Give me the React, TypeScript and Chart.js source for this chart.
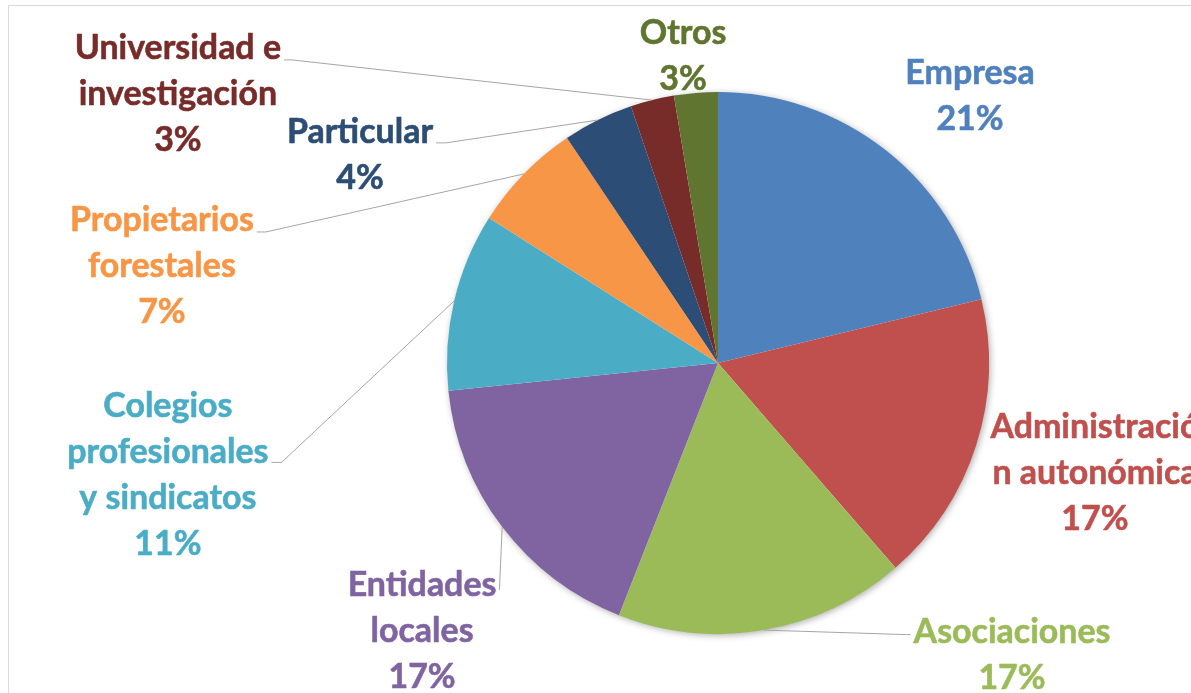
import React, { useEffect, useRef } from "react";
import { Chart, registerables } from "chart.js";

Chart.register(...registerables);

// ---- data ----
const categories = [
  "Empresa",
  "Administración autonómica",
  "Asociaciones",
  "Entidades locales",
  "Colegios profesionales y sindicatos",
  "Propietarios forestales",
  "Particular",
  "Universidad e investigación",
  "Otros",
];
const values = [21.2, 17.4, 17.3, 17.4, 10.6, 6.6, 4.2, 2.6, 2.6];
const labelLines = [
  ["Empresa"],
  ["Administració", "n autonómica"],
  ["Asociaciones"],
  ["Entidades", "locales"],
  ["Colegios", "profesionales", "y sindicatos"],
  ["Propietarios", "forestales"],
  ["Particular"],
  ["Universidad e", "investigación"],
  ["Otros"],
];

// ---- style ----
const colors = [
  "#4F81BD",
  "#C0504D",
  "#9BBB59",
  "#8064A2",
  "#4BACC6",
  "#F79646",
  "#2C4D75",
  "#772C2A",
  "#5F7530",
];
// label block centre relative to pie centre, in units of pie radius;
// attachDy: leader attach point relative to block centre (px)
const labelPlacement = [
  { dx: 0.93, dy: -0.985, leader: false, elbow: 0, attachDy: 0 },
  { dx: 1.391, dy: 0.406, leader: false, elbow: 0, attachDy: 0 },
  { dx: 1.085, dy: 1.076, leader: true, elbow: 4, attachDy: -20 },
  { dx: -1.092, dy: 0.989, leader: true, elbow: 0, attachDy: -41 },
  { dx: -2.03, dy: 0.411, leader: true, elbow: 10, attachDy: -12 },
  { dx: -2.052, dy: -0.358, leader: true, elbow: 9, attachDy: -34 },
  { dx: -1.321, dy: -0.768, leader: true, elbow: 10, attachDy: -12 },
  { dx: -1.993, dy: -0.993, leader: true, elbow: 8, attachDy: -34 },
  { dx: -0.129, dy: -1.135, leader: false, elbow: 0, attachDy: 0 },
];
const FONT_SIZE = 35;
const FONT_FAMILY = "Lato";
const SCALE_X = 0.97;
const LINE_H = 46;

const framePlugin = {
  id: "frame",
  beforeDraw(chart: any) {
    const ctx = chart.ctx;
    ctx.save();
    ctx.fillStyle = "#ffffff";
    ctx.fillRect(0, 0, chart.width, chart.height);
    ctx.strokeStyle = "#d9d9d9";
    ctx.lineWidth = 1;
    ctx.strokeRect(8.5, 5.5, chart.width + 50, chart.height + 50);
    ctx.restore();
  },
};

const shadowPlugin = {
  id: "pieShadow",
  beforeDatasetsDraw(chart: any) {
    const meta = chart.getDatasetMeta(0);
    const a = meta.data[0];
    if (!a) return;
    const { x, y, outerRadius } = a.getProps(["x", "y", "outerRadius"], true);
    const ctx = chart.ctx;
    ctx.save();
    ctx.shadowColor = "rgba(0,0,0,0.35)";
    ctx.shadowBlur = 7;
    ctx.shadowOffsetX = 1.5;
    ctx.shadowOffsetY = 1.5;
    ctx.fillStyle = "#ffffff";
    ctx.beginPath();
    ctx.arc(x, y, outerRadius - 0.5, 0, Math.PI * 2);
    ctx.fill();
    ctx.restore();
  },
};

const labelPlugin = {
  id: "outerLabels",
  afterDatasetsDraw(chart: any) {
    const ctx = chart.ctx;
    const meta = chart.getDatasetMeta(0);
    const data = chart.data.datasets[0].data as number[];
    const total = data.reduce((s, v) => s + v, 0);
    ctx.save();
    ctx.font = `bold ${FONT_SIZE}px ${FONT_FAMILY}`;
    meta.data.forEach((arc: any, i: number) => {
      const { x, y, startAngle, endAngle, outerRadius } = arc.getProps(
        ["x", "y", "startAngle", "endAngle", "outerRadius"],
        true
      );
      const p = labelPlacement[i];
      const cx = x + p.dx * outerRadius;
      const cy = y + p.dy * outerRadius;
      const pct = Math.round((data[i] / total) * 100) + "%";
      const lines = [...labelLines[i], pct];
      const firstY = cy - ((lines.length - 1) / 2) * LINE_H;
      let maxW = 0;
      lines.forEach((l) => {
        maxW = Math.max(maxW, ctx.measureText(l).width * SCALE_X);
      });
      if (p.leader) {
        const mid = (startAngle + endAngle) / 2;
        const ax = x + Math.cos(mid) * outerRadius;
        const ay = y + Math.sin(mid) * outerRadius;
        const rightSide = cx < x;
        const edgeX = rightSide ? cx + maxW / 2 + 3 : cx - maxW / 2 - 3;
        const attY = cy + p.attachDy;
        const elbowX = rightSide ? edgeX + p.elbow : edgeX - p.elbow;
        ctx.strokeStyle = "#a6a6a6";
        ctx.lineWidth = 1;
        ctx.beginPath();
        ctx.moveTo(ax, ay);
        ctx.lineTo(elbowX, attY);
        ctx.lineTo(edgeX, attY);
        ctx.stroke();
      }
      ctx.fillStyle = colors[i];
      ctx.strokeStyle = colors[i];
      ctx.lineWidth = 0.6;
      ctx.lineJoin = "round";
      ctx.textAlign = "center";
      ctx.textBaseline = "middle";
      lines.forEach((l, k) => {
        ctx.save();
        ctx.translate(cx, firstY + k * LINE_H);
        ctx.scale(SCALE_X, 1);
        ctx.fillText(l, 0, 0);
        ctx.strokeText(l, 0, 0);
        ctx.restore();
      });
    });
    ctx.restore();
  },
};

export default function App() {
  const ref = useRef<HTMLCanvasElement | null>(null);
  useEffect(() => {
    if (!ref.current) return;
    const chart = new Chart(ref.current, {
      type: "pie",
      data: {
        labels: categories,
        datasets: [
          {
            data: values,
            backgroundColor: colors,
            borderWidth: 0,
            hoverOffset: 0,
            offset: 0,
          },
        ],
      },
      options: {
        responsive: false,
        animation: false,
        events: [],
        layout: { padding: { left: 447, right: 202, top: 92, bottom: 59 } },
        plugins: {
          legend: { display: false },
          tooltip: { enabled: false },
        },
      },
      plugins: [framePlugin, shadowPlugin, labelPlugin],
    });
    return () => chart.destroy();
  }, []);
  return (
    <div style={{ position: "fixed", left: 0, top: 0, width: 1191, height: 693 }}>
      <canvas ref={ref} width={1191} height={693} style={{ display: "block" }} />
    </div>
  );
}
